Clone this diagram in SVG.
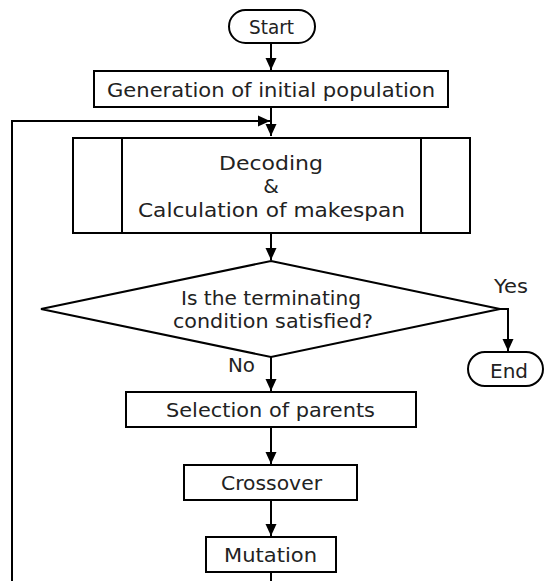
<svg xmlns="http://www.w3.org/2000/svg" width="545" height="581" viewBox="0 0 545 581">
<style>
.box{fill:#fff;stroke:#000;stroke-width:2}
.ln{fill:none;stroke:#000;stroke-width:2}
.t{font-family:"DejaVu Sans","Liberation Sans",sans-serif;font-size:20px;fill:#222;text-anchor:middle}
.tl{font-family:"DejaVu Sans","Liberation Sans",sans-serif;font-size:20px;fill:#222}
</style>
<defs>
<marker id="ah" markerUnits="userSpaceOnUse" markerWidth="14" markerHeight="14" viewBox="0 0 14 14" refX="12" refY="7" orient="auto">
<path d="M0,1.5 L12,7 L0,12.5 Z" fill="#000"/>
</marker>
</defs>
<rect width="545" height="581" fill="#fff"/>
<g id="connectors">
<path class="ln" d="M271,43 V70" marker-end="url(#ah)"/>
<path class="ln" d="M271,107 V136" marker-end="url(#ah)"/>
<path class="ln" d="M12,581 V121 H270" marker-end="url(#ah)"/>
<path class="ln" d="M271,233 V260" marker-end="url(#ah)"/>
<path class="ln" d="M500,309 H508 V351" marker-end="url(#ah)"/>
<path class="ln" d="M271,357 V391" marker-end="url(#ah)"/>
<path class="ln" d="M271,427 V464" marker-end="url(#ah)"/>
<path class="ln" d="M271,500 V536" marker-end="url(#ah)"/>
<path class="ln" d="M271,572 V581"/>
<text class="tl" x="494" y="293" textLength="34" lengthAdjust="spacingAndGlyphs">Yes</text>
<text class="tl" x="228" y="372" textLength="27" lengthAdjust="spacingAndGlyphs">No</text>
</g>
<g id="start">
<rect class="box" x="229" y="10" width="86" height="33" rx="16.5"/>
<text class="t" x="271.5" y="33.5" textLength="45" lengthAdjust="spacingAndGlyphs">Start</text>
</g>
<g id="generation">
<rect class="box" x="94" y="71" width="354" height="36"/>
<text class="t" x="271" y="97" textLength="328" lengthAdjust="spacingAndGlyphs">Generation of initial population</text>
</g>
<g id="decoding">
<rect class="box" x="73" y="138" width="397" height="95"/>
<path class="ln" d="M122,138 V233 M421,138 V233"/>
<text class="t" x="271" y="170" textLength="104" lengthAdjust="spacingAndGlyphs">Decoding</text>
<text class="t" x="271" y="193">&amp;</text>
<text class="t" x="271.5" y="217" textLength="267" lengthAdjust="spacingAndGlyphs">Calculation of makespan</text>
</g>
<g id="decision">
<path class="box" d="M271,261 L500,309 L271,357 L41,309 Z"/>
<text class="t" x="271" y="305" textLength="180" lengthAdjust="spacingAndGlyphs">Is the terminating</text>
<text class="t" x="273" y="328" textLength="200" lengthAdjust="spacingAndGlyphs">condition satisfied?</text>
</g>
<g id="end">
<rect class="box" x="468" y="352" width="75" height="34" rx="17"/>
<text class="t" x="509" y="378" textLength="38" lengthAdjust="spacingAndGlyphs">End</text>
</g>
<g id="selection">
<rect class="box" x="126" y="392" width="290" height="35"/>
<text class="t" x="270.5" y="416.5" textLength="209" lengthAdjust="spacingAndGlyphs">Selection of parents</text>
</g>
<g id="crossover">
<rect class="box" x="184" y="465" width="173" height="35"/>
<text class="t" x="271.5" y="489.5" textLength="101" lengthAdjust="spacingAndGlyphs">Crossover</text>
</g>
<g id="mutation">
<rect class="box" x="206" y="537" width="130" height="35"/>
<text class="t" x="270.5" y="561.5" textLength="93" lengthAdjust="spacingAndGlyphs">Mutation</text>
</g>
</svg>
